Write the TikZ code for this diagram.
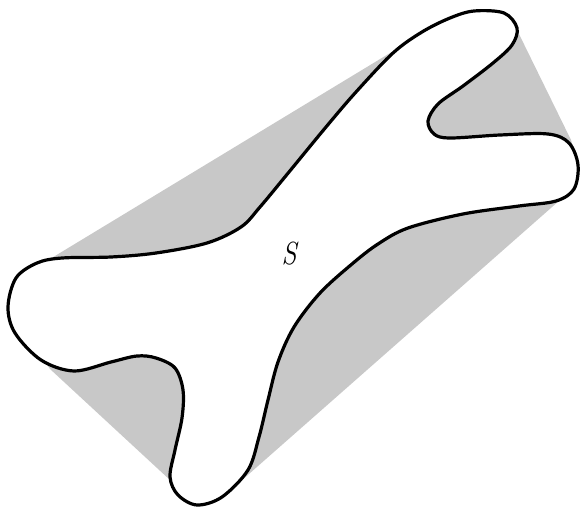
\documentclass[tikz,border=0pt]{standalone}
\usepackage{tikz}
\definecolor{hullgray}{RGB}{200,200,200}

\begin{document}
\begin{tikzpicture}[
      x=1pt, y=-1pt,
      hull/.style={fill=hullgray, draw=none},
      outline/.style={draw=black, line width=3.2pt, fill=white, line join=round},
      setlabel/.style={font=\fontsize{32}{32}\selectfont\itshape, xscale=0.85}
  ]
    \useasboundingbox (0,0) rectangle (580,510);

    % Convex hull (shaded)
    \fill[hull] (50,259) -- (395,50) -- (474,11) -- (517,30) -- (571,140)
                -- (578,165) -- (560,200) -- (241,481) -- (197,505)
                -- (170,480) -- (50,369) -- (8,307) -- cycle;

    % The set S
    \path[outline] plot[smooth cycle, tension=0.55] coordinates {
        (474,11) (504,13) (517,28) (512,45) (493,63) (463,86) (438,104)
        (428,121) (434,134) (450,138) (500,135) (548,134) (569,143)
        (578,165) (574,189) (556,201) (519,206) (463,214) (408,228)
        (378,244) (352,264) (320,293) (294,327) (278,362) (268,400)
        (259,437) (248,470) (222,497) (197,505) (178,495) (170,477)
        (175,450) (182,418) (183,390) (175,368) (156,358) (137,356)
        (111,362) (74,371) (41,360) (15,333) (8,307) (16,278) (37,263)
        (62,258) (111,257) (156,253) (207,243) (241,227) (260,207)
        (289,172) (326,127) (356,92) (393,53) (422,32) (450,18)};

    \node[setlabel] (s) at (289,254) {S};
  \end{tikzpicture}
\end{document}
